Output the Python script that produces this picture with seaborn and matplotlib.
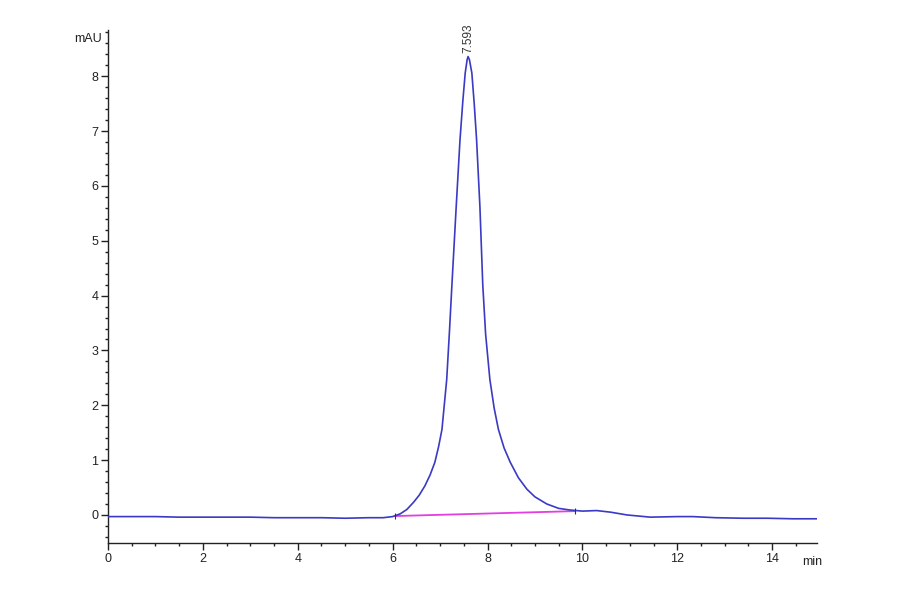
import matplotlib
matplotlib.use("Agg")
import matplotlib.pyplot as plt
from matplotlib.ticker import MultipleLocator
import seaborn as sns
import pandas as pd

# Retention time (min) and detector signal (mAU)
time_min = [0, 0.5, 1, 1.5, 2, 2.5, 3, 3.5, 4, 4.5, 5, 5.5, 5.8, 6.0, 6.16,
            6.3, 6.44, 6.56, 6.68, 6.79, 6.89, 6.97, 7.04, 7.14, 7.20, 7.25,
            7.34, 7.42, 7.48, 7.53, 7.57, 7.59, 7.62, 7.67, 7.72, 7.77, 7.84,
            7.90, 7.96, 8.05, 8.14, 8.23, 8.35, 8.48, 8.65, 8.83, 9.0, 9.25,
            9.5, 9.74, 10.0, 10.3, 10.6, 10.94, 11.43, 12.0, 12.33, 12.8,
            13.39, 13.9, 14.44, 14.95]
signal_mau = [-0.03, -0.03, -0.03, -0.04, -0.04, -0.04, -0.04, -0.05, -0.05,
              -0.05, -0.06, -0.05, -0.05, -0.03, 0.02, 0.10, 0.23, 0.36, 0.53,
              0.73, 0.96, 1.25, 1.56, 2.47, 3.38, 4.20, 5.62, 6.84, 7.55, 8.06,
              8.30, 8.36, 8.30, 8.06, 7.50, 6.84, 5.62, 4.20, 3.30, 2.47, 1.95,
              1.56, 1.22, 0.96, 0.68, 0.47, 0.33, 0.20, 0.12, 0.09, 0.07, 0.08,
              0.05, 0.00, -0.04, -0.03, -0.03, -0.05, -0.06, -0.06, -0.07,
              -0.07]

# Integration baseline (start / end)
baseline_t = [6.05, 9.85]
baseline_y = [-0.02, 0.07]

peak_rt = 7.593
peak_label = "7.593"

x_ticks = [0, 2, 4, 6, 8, 10, 12, 14]
y_ticks = [0, 1, 2, 3, 4, 5, 6, 7, 8]

sns.set_style("ticks")
plt.rcParams["font.family"] = ["Liberation Sans Narrow", "Liberation Sans", "DejaVu Sans"]

fig = plt.figure(figsize=(9, 5.94), dpi=100)
ax = fig.add_axes([0.12, 0.086, 0.788, 0.864])

df = pd.DataFrame({"t": time_min, "mAU": signal_mau})
sns.lineplot(data=df, x="t", y="mAU", ax=ax, color="#3a3ac4", linewidth=1.2,
             sort=False, zorder=3)

bl = pd.DataFrame({"t": baseline_t, "mAU": baseline_y})
sns.lineplot(data=bl, x="t", y="mAU", ax=ax, color="#e23ee0", linewidth=1.3,
             zorder=2)
ax.plot(baseline_t, baseline_y, linestyle="none", marker="|", color="#333333",
        markersize=5, markeredgewidth=0.8, zorder=4)

ax.text(peak_rt, 8.42, peak_label, rotation=90, ha="center", va="bottom",
        fontsize=8.5, color="#333333")

ax.set_xlim(0, 14.95)
ax.set_ylim(-0.51, 8.85)
ax.set_xticks(x_ticks)
ax.set_yticks(y_ticks)
ax.xaxis.set_minor_locator(MultipleLocator(0.5))
ax.yaxis.set_minor_locator(MultipleLocator(0.2))
ax.tick_params(which="major", length=5, width=1, labelsize=9, color="#222222",
               labelcolor="#222222", pad=2)
ax.tick_params(which="minor", length=2.5, width=1, color="#222222")
ax.set_xlabel("")
ax.set_ylabel("")
sns.despine(ax=ax)
for s in ("left", "bottom"):
    ax.spines[s].set_linewidth(1)
    ax.spines[s].set_color("#222222")

fig.text(0.113, 0.935, "mAU", ha="right", va="center", fontsize=9, color="#222222")
fig.text(0.891, 0.054, "min", ha="left", va="center", fontsize=9, color="#222222")

fig.savefig("out.png", dpi=100, facecolor="white")
